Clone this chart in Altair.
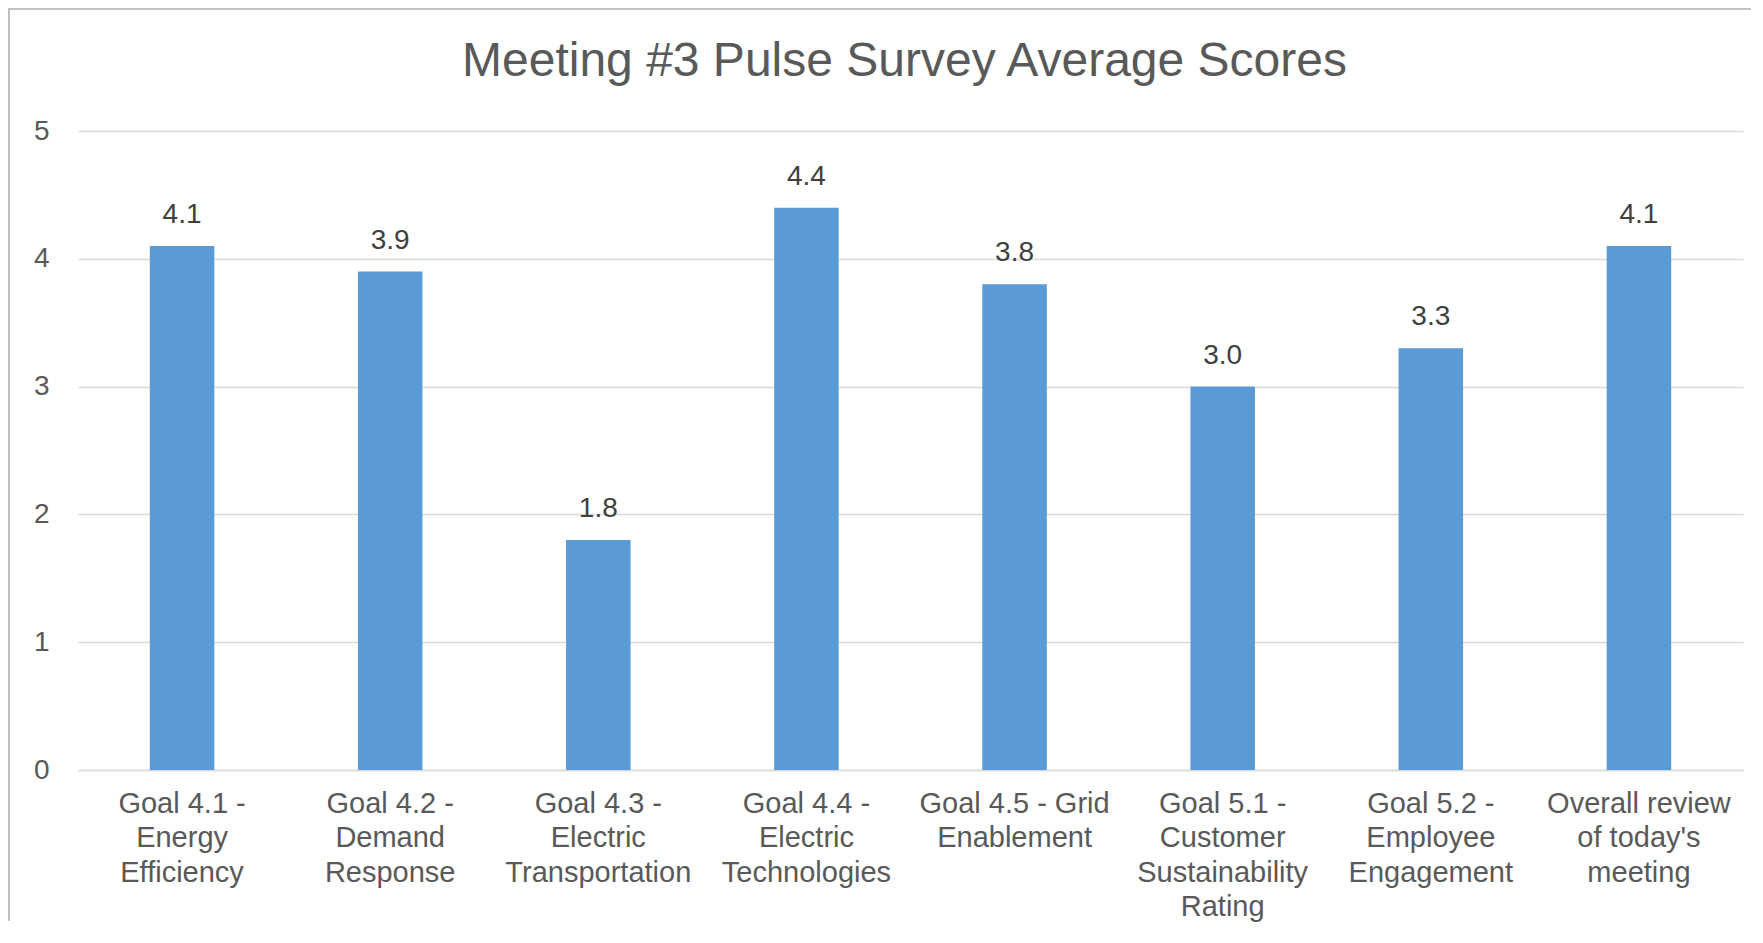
import json
import altair as alt
import pandas as pd

categories = [
    "Goal 4.1 - Energy Efficiency",
    "Goal 4.2 - Demand Response",
    "Goal 4.3 - Electric Transportation",
    "Goal 4.4 - Electric Technologies",
    "Goal 4.5 - Grid Enablement",
    "Goal 5.1 - Customer Sustainability Rating",
    "Goal 5.2 - Employee Engagement",
    "Overall review of today's meeting",
]
scores = [4.1, 3.9, 1.8, 4.4, 3.8, 3.0, 3.3, 4.1]
label_lines = [
    ["Goal 4.1 -", "Energy", "Efficiency"],
    ["Goal 4.2 -", "Demand", "Response"],
    ["Goal 4.3 -", "Electric", "Transportation"],
    ["Goal 4.4 -", "Electric", "Technologies"],
    ["Goal 4.5 - Grid", "Enablement"],
    ["Goal 5.1 -", "Customer", "Sustainability", "Rating"],
    ["Goal 5.2 -", "Employee", "Engagement"],
    ["Overall review", "of today's", "meeting"],
]
y_ticks = [0, 1, 2, 3, 4, 5]
title_text = "Meeting #3 Pulse Survey Average Scores"

df = pd.DataFrame({"category": categories, "score": scores})
label_map = json.dumps(dict(zip(categories, label_lines)))

FONT = "Liberation Sans"
TEXT = "#595959"
BAR = "#5B9BD5"
GRID = "#D9D9D9"

x_enc = alt.X(
    "category:N",
    sort=categories,
    title=None,
    scale=alt.Scale(paddingInner=0.69, paddingOuter=0.345),
    axis=alt.Axis(
        labelExpr=f"{label_map}[datum.label]",
        labelAngle=0,
        labelFont=FONT,
        labelFontSize=29,
        labelColor=TEXT,
        labelLineHeight=34.5,
        labelPadding=19,
        ticks=False,
        domain=True,
        domainColor=GRID,
        domainWidth=1.5,
        labelLimit=400,
        labelOverlap=False,
        grid=False,
    ),
)

y_enc = alt.Y(
    "score:Q",
    title=None,
    scale=alt.Scale(domain=[0, 5], nice=False),
    axis=alt.Axis(
        values=y_ticks,
        format="d",
        labelFont=FONT,
        labelFontSize=28,
        labelColor=TEXT,
        labelPadding=29,
        ticks=False,
        domain=False,
        grid=True,
        gridColor=GRID,
        gridWidth=1.5,
    ),
)

bars = alt.Chart(df).mark_bar(color=BAR).encode(x=x_enc, y=y_enc)

labels = alt.Chart(df).mark_text(
    font=FONT, fontSize=28, color="#404040", baseline="alphabetic", dy=-23
).encode(
    x=alt.X("category:N", sort=categories),
    y=alt.Y("score:Q"),
    text=alt.Text("score:Q", format=".1f"),
)

border_left = alt.Chart(df).mark_rule(color="#BFBFBF", strokeWidth=1.5).encode(
    x=alt.value(-69), y=alt.value(-122.5), y2=alt.value(790)
)
border_top = alt.Chart(df).mark_rule(color="#BFBFBF", strokeWidth=1.5).encode(
    x=alt.value(-69), x2=alt.value(1673), y=alt.value(-122.5)
)

chart = (
    alt.layer(bars, labels, border_left, border_top)
    .properties(
        width=1665,
        height=639,
        title=alt.TitleParams(
            title_text,
            font=FONT,
            fontSize=48,
            fontWeight="normal",
            color=TEXT,
            anchor="middle",
            dx=-6,
            dy=78,
            offset=0,
        ),
        padding={"left": 70, "top": 123, "right": 8, "bottom": 152},
        autosize=alt.AutoSizeParams(type="none"),
    )
    .configure_view(stroke=None)
)

chart.save("out.html", embed_options={"renderer": "svg", "actions": False})
